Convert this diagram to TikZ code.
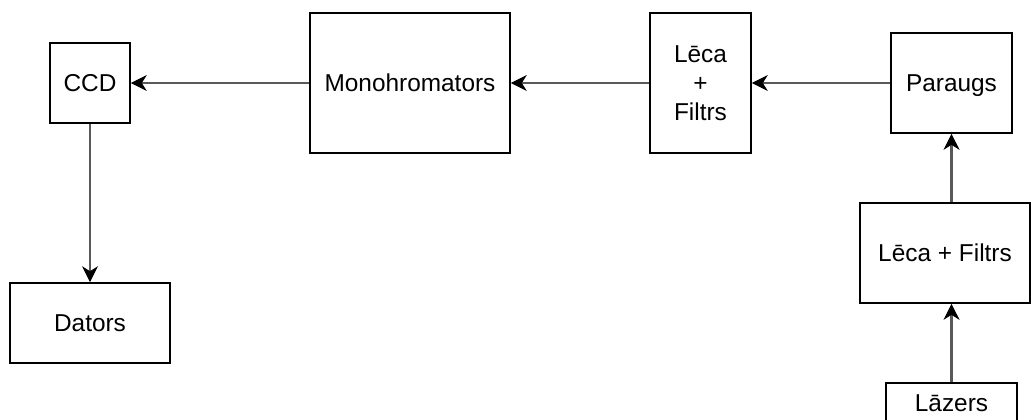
\documentclass[tikz,border=0pt]{standalone}
\usepackage{fontspec}
\setmainfont{Liberation Sans}
\usetikzlibrary{arrows.meta}

\begin{document}
\begin{tikzpicture}[x=0.5pt,y=-0.5pt,
    block/.style={draw=black, line width=0.8pt, align=center, inner sep=0pt,
      font=\fontsize{12.2pt}{14.5pt}\selectfont},
    flow/.style={draw=black!65, line width=1.1pt, -{Stealth[length=8pt,width=8pt,inset=2.5pt,line width=0.4pt,color=black,fill=black]}}]
    \useasboundingbox (0,0) rectangle (1031,419);% Page size
    \node[block, minimum width=40pt, minimum height=40pt] (ccd) at (90,83) {CCD};
    \node[block, minimum width=80pt, minimum height=40pt] (dators) at (90,323) {Dators};
    \node[block, minimum width=100pt, minimum height=70pt] (mono) at (410,83) {Monohromators};
    \node[block, minimum width=50.5pt, minimum height=70pt] (leca) at (700.5,83) {Lēca\\+\\Filtrs};
    \node[block, minimum width=60.5pt, minimum height=50pt, text depth=0pt] (paraugs) at (951.5,83) {Paraugs};
    \node[block, minimum width=85pt, minimum height=50pt] (lecab) at (945,253) {Lēca + Filtrs};
    \node[block, minimum width=65.5pt, minimum height=20pt] (lazers) at (951.5,403) {Lāzers};
    % light path
    \draw[flow] (paraugs.west) -- (leca.east);
    \draw[flow] (leca.west) -- (mono.east);
    \draw[flow] (mono.west) -- (ccd.east);
    \draw[flow] (ccd.south) -- (dators.north);
    \draw[flow] (lazers.north) -- (lazers.north |- lecab.south);
    \draw[flow] (paraugs.south |- lecab.north) -- (paraugs.south);
\end{tikzpicture}
\end{document}
